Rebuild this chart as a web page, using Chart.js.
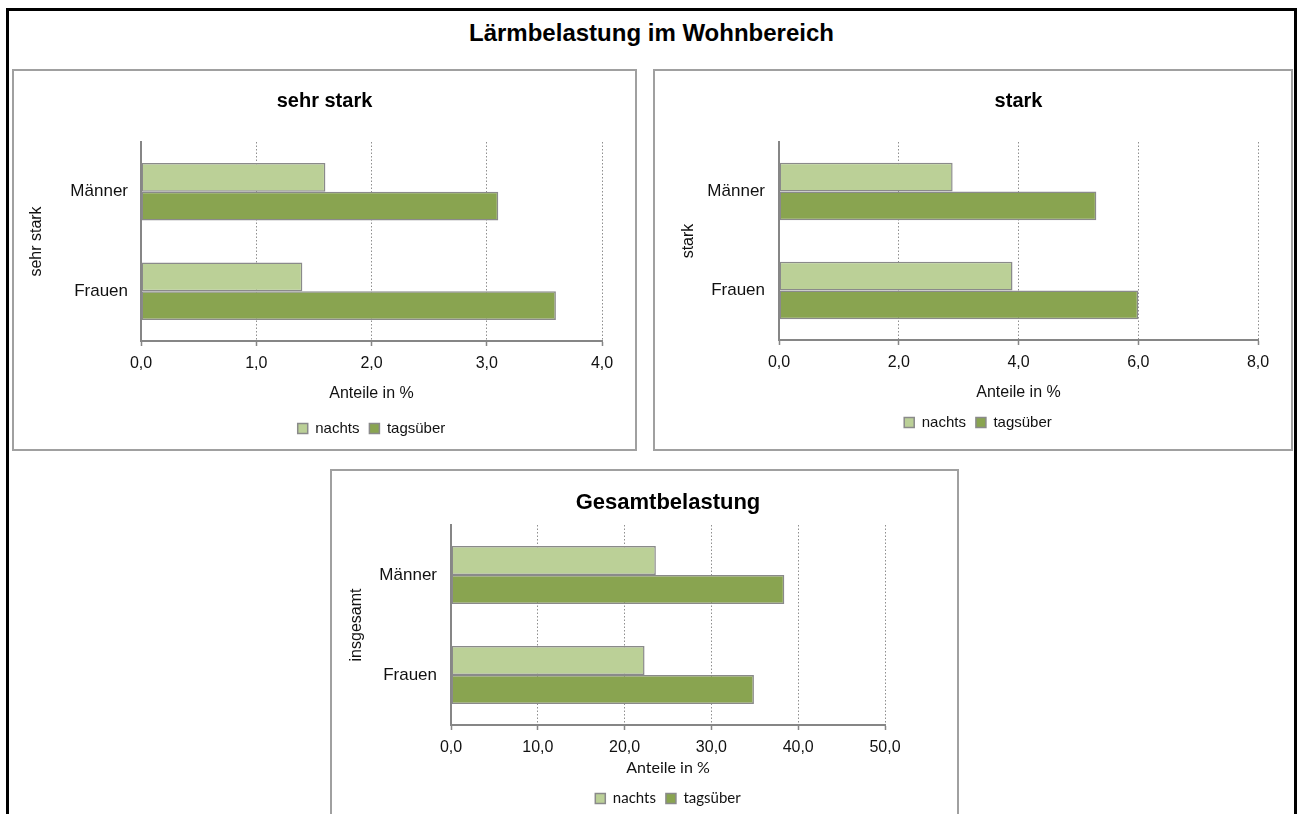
<!DOCTYPE html>
<html lang="de">
<head>
<meta charset="utf-8">
<title>Lärmbelastung im Wohnbereich</title>
<script src="https://cdn.jsdelivr.net/npm/chart.js@4.4.1/dist/chart.umd.min.js"></script>
<style>
  body { margin: 0; background: #fff; width: 1300px; height: 814px; overflow: hidden; position: relative;
         font-family: "Liberation Sans", Arial, sans-serif; }
  #frame { position: absolute; left: 6px; top: 8px; width: 1291px; height: 840px; border: 3px solid #000; box-sizing: border-box; }
  #mainTitle { position: absolute; left: 6px; width: 1291px; top: 19px; text-align: center;
               font-weight: bold; font-size: 24px; line-height: 28px; color: #000; }
  .panel { position: absolute; border: 2px solid #a0a0a0; background: #fff; }
  .panel canvas { display: block; }
  #p1 { left: 12px; top: 69px; width: 621px; height: 378px; }
  #p2 { left: 653px; top: 69px; width: 636px; height: 378px; }
  #p3 { left: 330px; top: 469px; width: 625px; height: 356px; }
</style>
</head>
<body>
<div id="frame"></div>
<div id="mainTitle">Lärmbelastung im Wohnbereich</div>
<div class="panel" id="p1"><canvas id="c1" width="621" height="378"></canvas></div>
<div class="panel" id="p2"><canvas id="c2" width="636" height="378"></canvas></div>
<div class="panel" id="p3"><canvas id="c3" width="625" height="356"></canvas></div>

<script>
// data (Anteile in %)
const categories = ["Männer", "Frauen"];
const seriesNames = ["nachts", "tagsüber"];

const sehrStarkNachts = [1.6, 1.4];
const sehrStarkTags = [3.1, 3.6];

const starkNachts = [2.9, 3.9];
const starkTags = [5.3, 6.0];

const gesamtNachts = [23.6, 22.3];
const gesamtTags = [38.4, 34.9];

const axisMax = [4, 8, 50];
const axisStep = [1, 2, 10];

const lightGreen = "#bbd097";
const darkGreen = "#89a450";
const barBorder = "#8a8a8a";
const axisGrey = "#868686";
const textCol = "#111";

const fmt = (v) => v.toFixed(1).replace(".", ",");

const drawPanel = (id, o) => {
  const ctx = document.getElementById(id);
  const bodyFont = o.bodyFont || "'Liberation Sans', Arial, sans-serif";
  const legendFont = o.legendFont || bodyFont;

  return new Chart(ctx, {
    type: "bar",
    data: {
      labels: categories,
      datasets: [
        { label: seriesNames[0], data: o.nachts, backgroundColor: lightGreen,
          borderColor: barBorder, borderWidth: 1.5, borderSkipped: false },
        { label: seriesNames[1], data: o.tags, backgroundColor: darkGreen,
          borderColor: barBorder, borderWidth: 1.5, borderSkipped: false },
      ],
    },
    options: {
      indexAxis: "y",
      responsive: false,
      animation: false,
      datasets: { bar: { categoryPercentage: 0.58, barPercentage: 1 } },
      layout: { padding: { left: o.padLeft, top: 0, right: o.padRight, bottom: o.padBottom } },
      plugins: {
        tooltip: { enabled: false },
        title: {
          display: true,
          text: o.title,
          fullSize: o.titleFull,
          color: "#000",
          font: { family: "'Liberation Sans', Arial, sans-serif", size: o.titleSize, weight: "bold" },
          padding: { top: o.titleTop, bottom: o.titleBottom },
        },
        legend: {
          position: "bottom",
          fullSize: o.legendFull,
          labels: {
            boxWidth: 10, boxHeight: 10, padding: 10, color: textCol,
            font: { family: legendFont, size: 15 },
          },
        },
      },
      scales: {
        x: {
          min: 0,
          max: o.max,
          ticks: { stepSize: o.step, callback: (v) => fmt(v), padding: 8, color: textCol,
                   font: { family: bodyFont, size: 16 } },
          grid: {
            color: (c) => (c.index === 0 ? "rgba(0,0,0,0)" : "#8f8f8f"),
            tickColor: axisGrey, tickLength: 5, lineWidth: 1, tickWidth: 1.5,
          },
          border: { color: axisGrey, width: 2, dash: [1.5, 2] },
          title: { display: true, text: "Anteile in %", color: textCol,
                   font: { family: legendFont, size: 16 },
                   padding: { top: 4, bottom: o.xTitleBottom } },
          afterFit: (s) => { s.height = o.xHeight; },
        },
        y: {
          grid: { display: false, drawTicks: false },
          border: { color: axisGrey, width: 2 },
          ticks: { padding: o.yPad, color: textCol, font: { family: bodyFont, size: 17 } },
          title: { display: true, text: o.yTitle, color: textCol,
                   font: { family: bodyFont, size: 16 },
                   padding: { top: o.yTitlePad, bottom: 0 } },
          afterFit: (s) => { s.width = o.yWidth; },
        },
      },
    },
  });
};

drawPanel("c1", {
  title: "sehr stark", titleSize: 20, titleFull: true, titleTop: 18, titleBottom: 29,
  nachts: sehrStarkNachts, tags: sehrStarkTags, max: axisMax[0], step: axisStep[0],
  yTitle: "sehr stark", yTitlePad: -19.6, yWidth: 94, yPad: 13,
  padLeft: 33, padRight: 33, padBottom: 3, xHeight: 70, xTitleBottom: 7.4, legendFull: false,
});

drawPanel("c2", {
  title: "stark", titleSize: 20, titleFull: false, titleTop: 18, titleBottom: 29,
  nachts: starkNachts, tags: starkTags, max: axisMax[1], step: axisStep[1],
  yTitle: "stark", yTitlePad: -18.6, yWidth: 81, yPad: 14,
  padLeft: 43, padRight: 33, padBottom: 9, xHeight: 65, xTitleBottom: 2.4, legendFull: true,
});

drawPanel("c3", {
  title: "Gesamtbelastung", titleSize: 22, titleFull: false, titleTop: 18.8, titleBottom: 8.8,
  nachts: gesamtNachts, tags: gesamtTags, max: axisMax[2], step: axisStep[2],
  yTitle: "insgesamt", yTitlePad: 15.4, yWidth: 119, yPad: 14,
  padLeft: 0, padRight: 72, padBottom: 11, xHeight: 56, xTitleBottom: 3.4, legendFull: false,
  legendFont: "Lato, 'Liberation Sans', sans-serif",
});
</script>
</body>
</html>
